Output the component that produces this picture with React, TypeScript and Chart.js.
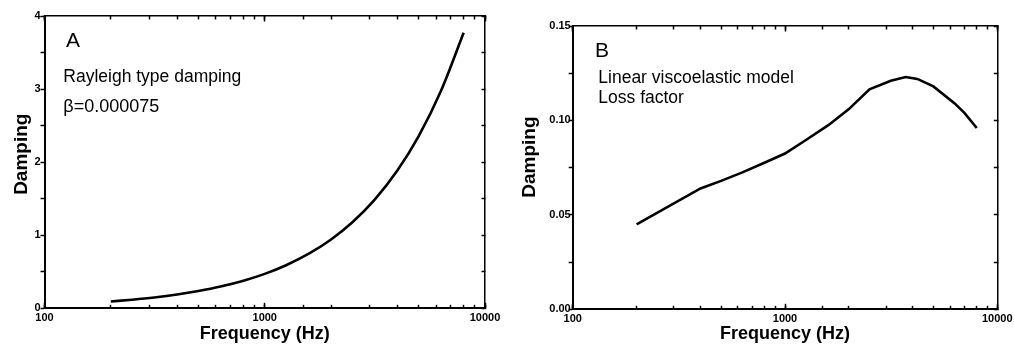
import React, { useEffect, useRef } from "react";
import { Chart, registerables } from "chart.js";

Chart.register(...registerables);

// ---------- data ----------
const freqA = [200, 250, 315, 400, 500, 630, 800, 1000, 1250, 1600, 2000, 2500, 3150, 4000, 5000, 6300, 8000];
const dampA = [0.094, 0.118, 0.148, 0.188, 0.236, 0.297, 0.377, 0.471, 0.589, 0.754, 0.942, 1.178, 1.484, 1.885, 2.356, 2.969, 3.77];

const freqB = [200, 400, 500, 630, 800, 1000, 1250, 1600, 2000, 2500, 3150, 3700, 4200, 5000, 6300, 7000, 8000];
const dampB = [0.045, 0.064, 0.068, 0.0725, 0.0776, 0.0825, 0.0895, 0.0975, 0.106, 0.1165, 0.121, 0.123, 0.122, 0.118, 0.109, 0.104, 0.096];

const xTickLabels = ["100", "1000", "10000"];
const yTickLabelsA = ["0", "1", "2", "3", "4"];
const yTickLabelsB = ["0.00", "0.05", "0.10", "0.15"];

const xTitle = "Frequency (Hz)";
const yTitle = "Damping";

const notesA = [
  { text: "A", dx: 21.5, dy: 30.7, size: 21 },
  { text: "Rayleigh type damping", dx: 18.8, dy: 65.7, size: 17.5 },
  { text: "β=0.000075", dx: 18.8, dy: 95.7, size: 18 },
];
const notesB = [
  { text: "B", dx: 22.3, dy: 30.7, size: 21 },
  { text: "Linear viscoelastic model", dx: 25.6, dy: 57.3, size: 17.5 },
  { text: "Loss factor", dx: 25.6, dy: 77.3, size: 17.5 },
];

const FONT = "'Liberation Sans', Arial, sans-serif";

type Note = { text: string; dx: number; dy: number; size: number };

function notesPlugin(notes: Note[]) {
  return {
    id: "notes",
    afterDraw(chart: any) {
      const { ctx, chartArea } = chart;
      ctx.save();
      ctx.fillStyle = "#000";
      ctx.textBaseline = "alphabetic";
      ctx.textAlign = "left";
      for (const n of notes) {
        ctx.font = `${n.size}px ${FONT}`;
        ctx.fillText(n.text, chartArea.left + n.dx, chartArea.top + n.dy);
      }
      ctx.restore();
    },
  };
}

type Cfg = {
  xs: number[];
  ys: number[];
  smooth: boolean;
  yMax: number;
  yStep: number;
  yLabels: string[];
  yFmt: (v: number) => string;
  yWidth: number;
  xHeight: number;
  pad: { left: number; right: number; top: number; bottom: number };
  yLabelPad: number;
  yTitlePad: number;
  yTitleText: string;
  notes: Note[];
};

const isDecade = (v: number) => xTickLabels.includes(String(v));

function makeChart(canvas: HTMLCanvasElement, c: Cfg) {
  const tickFont = { family: FONT, size: 11, weight: "bold" as const };
  const border = { display: true, color: "#000", width: 2 };
  const noPadX = (h: number) => (s: any) => {
    s.height = h;
    s.paddingLeft = 0;
    s.paddingRight = 0;
  };
  const noPadY = (w: number) => (s: any) => {
    s.width = w;
    s.paddingTop = 0;
    s.paddingBottom = 0;
  };
  const majorOnly = (s: any) => {
    s.ticks = s.ticks.filter((t: any) => isDecade(t.value));
  };
  const logBase = { type: "logarithmic", min: 100, max: 10000 };
  return new Chart(canvas, {
    type: "line",
    data: {
      datasets: [
        {
          data: c.xs.map((x, i) => ({ x, y: c.ys[i] })),
          borderColor: "#000",
          borderWidth: 2.6,
          pointRadius: 0,
          fill: false,
          tension: 0,
          cubicInterpolationMode: c.smooth ? "monotone" : "default",
        },
      ],
    },
    options: {
      responsive: false,
      animation: false,
      devicePixelRatio: 1,
      layout: { padding: c.pad },
      plugins: { legend: { display: false }, tooltip: { enabled: false } },
      scales: {
        x: {
          ...logBase,
          position: "bottom",
          border,
          grid: { drawOnChartArea: false, tickLength: -3.5, tickColor: "#000", tickWidth: 1.5 },
          ticks: {
            autoSkip: false,
            maxRotation: 0,
            padding: 6.8,
            color: "#000",
            font: tickFont,
            callback: (v: any) => (isDecade(Number(v)) ? String(v) : ""),
          },
          title: {
            display: true,
            text: xTitle,
            color: "#000",
            font: { family: FONT, size: 18, weight: "bold" },
            padding: { top: 0, bottom: 9.2 },
          },
          afterFit: noPadX(c.xHeight),
        },
        xMajor: {
          ...logBase,
          position: "bottom",
          weight: -1,
          border: { display: false },
          grid: { drawOnChartArea: false, tickLength: -5.5, tickColor: "#000", tickWidth: 1.5 },
          ticks: { display: false, autoSkip: false },
          afterBuildTicks: majorOnly,
          afterFit: noPadX(0),
        },
        x2: {
          ...logBase,
          position: "top",
          border: { ...border, width: 1.5 },
          grid: { drawOnChartArea: false, tickLength: -3.5, tickColor: "#000", tickWidth: 1.5 },
          ticks: { display: false, autoSkip: false },
          afterFit: noPadX(0),
        },
        x2Major: {
          ...logBase,
          position: "top",
          weight: -1,
          border: { display: false },
          grid: { drawOnChartArea: false, tickLength: -5.5, tickColor: "#000", tickWidth: 1.5 },
          ticks: { display: false, autoSkip: false },
          afterBuildTicks: majorOnly,
          afterFit: noPadX(0),
        },
        y: {
          type: "linear",
          position: "left",
          min: 0,
          max: c.yMax,
          border,
          grid: { drawOnChartArea: false, tickLength: 4, tickColor: "#000", tickWidth: 1.5 },
          ticks: {
            stepSize: c.yStep,
            autoSkip: false,
            padding: c.yLabelPad,
            color: "#000",
            font: tickFont,
            callback: (v: any) => {
              const s = c.yFmt(Number(v));
              return c.yLabels.includes(s) ? s : "";
            },
          },
          title: {
            display: true,
            text: c.yTitleText,
            color: "#000",
            font: { family: FONT, size: 19, weight: "bold" },
            padding: { top: c.yTitlePad, bottom: 0 },
          },
          afterFit: noPadY(c.yWidth),
        },
        y2: {
          type: "linear",
          position: "right",
          min: 0,
          max: c.yMax,
          border: { ...border, width: 1.5 },
          grid: { drawOnChartArea: false, tickLength: -3.5, tickColor: "#000", tickWidth: 1.5 },
          ticks: { display: false, stepSize: c.yStep, autoSkip: false },
          afterFit: noPadY(0),
        },
      },
    } as any,
    plugins: [notesPlugin(c.notes)],
  });
}

export default function App() {
  const refA = useRef<HTMLCanvasElement>(null);
  const refB = useRef<HTMLCanvasElement>(null);

  useEffect(() => {
    const a = makeChart(refA.current!, {
      xs: freqA,
      ys: dampA,
      smooth: true,
      yMax: 4,
      yStep: 0.5,
      yLabels: yTickLabelsA,
      yFmt: (v) => (Math.abs(v - Math.round(v)) < 1e-9 ? String(Math.round(v)) : ""),
      yWidth: 44.5,
      xHeight: 354 - 308.3,
      pad: { left: 0, right: 22, top: 16, bottom: 0 },
      yLabelPad: 0,
      yTitlePad: 10.1,
      yTitleText: "   " + yTitle,
      notes: notesA,
    });
    const b = makeChart(refB.current!, {
      xs: freqB,
      ys: dampB,
      smooth: false,
      yMax: 0.15,
      yStep: 0.025,
      yLabels: yTickLabelsB,
      yFmt: (v) => (Math.abs(v * 20 - Math.round(v * 20)) < 1e-6 ? v.toFixed(2) : ""),
      yWidth: 65.7,
      xHeight: 354 - 309.3,
      pad: { left: 0, right: 16.7, top: 26, bottom: 0 },
      yLabelPad: -2,
      yTitlePad: 11.6,
      yTitleText: "    " + yTitle,
      notes: notesB,
    });
    return () => {
      a.destroy();
      b.destroy();
    };
  }, []);

  return (
    <div style={{ position: "absolute", left: 0, top: 0, width: 1014, height: 354, background: "#fff" }}>
      <canvas ref={refA} width={507} height={354} style={{ position: "absolute", left: 0, top: 0 }} />
      <canvas ref={refB} width={507} height={354} style={{ position: "absolute", left: 507, top: 0 }} />
    </div>
  );
}
